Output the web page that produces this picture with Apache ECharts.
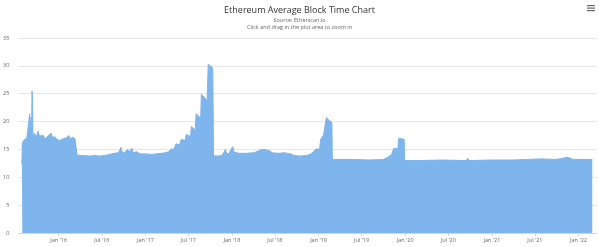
<!DOCTYPE html>
<html>
<head>
<meta charset="utf-8">
<script src="https://cdn.jsdelivr.net/npm/echarts@6/dist/echarts.min.js"></script>
<style>
  html, body { margin: 0; padding: 0; background: #fff; }
  #chart { width: 599px; height: 247px; }
</style>
</head>
<body>
<div id="chart"></div>
<script>
// average block time (seconds)
const blockDates = [
  '2015-07-30', '2015-08-01', '2015-08-10', '2015-08-20', '2015-08-28', '2015-09-01', '2015-09-03',
  '2015-09-07', '2015-09-09', '2015-09-11', '2015-09-13', '2015-09-15', '2015-09-22', '2015-09-29',
  '2015-10-06', '2015-10-12', '2015-10-20', '2015-10-28', '2015-11-05', '2015-11-14', '2015-11-22',
  '2015-12-01', '2015-12-06', '2015-12-15', '2015-12-25', '2016-01-05', '2016-01-15', '2016-01-25',
  '2016-02-05', '2016-02-12', '2016-02-20', '2016-03-01', '2016-03-10', '2016-03-17', '2016-03-19',
  '2016-04-01', '2016-04-20', '2016-05-10', '2016-06-01', '2016-06-20', '2016-07-10', '2016-07-25',
  '2016-08-01', '2016-08-20', '2016-09-10', '2016-09-20', '2016-09-24', '2016-10-05', '2016-10-18',
  '2016-10-25', '2016-11-05', '2016-11-10', '2016-11-25', '2016-12-10', '2017-01-01', '2017-01-25',
  '2017-02-15', '2017-03-10', '2017-03-25', '2017-04-10', '2017-04-20', '2017-05-01', '2017-05-10',
  '2017-05-25', '2017-06-01', '2017-06-18', '2017-06-22', '2017-07-10', '2017-07-14', '2017-07-30',
  '2017-08-03', '2017-08-22', '2017-08-25', '2017-09-18', '2017-09-23', '2017-10-12', '2017-10-15',
  '2017-11-01', '2017-11-20', '2017-12-04', '2017-12-10', '2017-12-20', '2018-01-04', '2018-01-10',
  '2018-02-01', '2018-03-01', '2018-04-04', '2018-04-20', '2018-05-01', '2018-05-20', '2018-06-07',
  '2018-06-20', '2018-07-15', '2018-08-10', '2018-09-07', '2018-09-20', '2018-10-15', '2018-11-10',
  '2018-11-25', '2018-12-10', '2018-12-22', '2019-01-05', '2019-01-10', '2019-01-22', '2019-02-03',
  '2019-02-15', '2019-02-26', '2019-02-28', '2019-04-01', '2019-06-01', '2019-08-01', '2019-10-01',
  '2019-10-20', '2019-11-05', '2019-11-14', '2019-12-02', '2019-12-05', '2019-12-28', '2019-12-30',
  '2020-03-01', '2020-06-01', '2020-09-15', '2020-09-21', '2020-09-28', '2021-01-01', '2021-04-01',
  '2021-06-01', '2021-08-01', '2021-09-20', '2021-10-15', '2021-11-15', '2021-11-20', '2021-12-10',
  '2022-02-01', '2022-02-28'
]
const blockTimes = [
  12.4, 16.2, 16.8, 17.0, 17.3, 21.4, 17.6,
  20.8, 17.5, 25.5, 24.2, 17.4, 17.9, 17.2,
  18.3, 17.4, 17.1, 17.5, 16.9, 17.3, 17.0,
  17.9, 17.1, 17.3, 16.8, 16.6, 16.8, 17.0,
  17.1, 17.5, 16.9, 17.2, 16.9, 16.7, 14.0,
  13.9, 13.9, 13.8, 13.9, 13.8, 13.9, 14.0,
  14.3, 14.3, 14.4, 15.4, 14.6, 14.4, 15.0,
  14.6, 15.2, 14.4, 14.6, 14.2, 14.2, 14.1,
  14.2, 14.3, 14.4, 14.6, 15.1, 15.0, 16.0,
  15.8, 16.8, 16.6, 17.7, 17.3, 19.1, 18.5,
  21.4, 20.6, 24.9, 23.8, 30.3, 29.6, 13.9,
  13.8, 13.9, 15.0, 14.2, 14.3, 15.5, 14.5,
  14.3, 14.3, 14.4, 14.7, 14.9, 15.0, 14.8,
  14.4, 14.3, 14.4, 14.2, 13.9, 13.8, 13.9,
  14.1, 14.5, 15.1, 15.0, 16.8, 17.6, 20.7,
  20.2, 19.9, 13.2, 13.2, 13.2, 13.1, 13.2,
  13.6, 14.1, 15.2, 15.1, 17.0, 16.8, 13.0,
  13.0, 13.1, 13.0, 13.4, 13.0, 13.1, 13.1,
  13.2, 13.3, 13.2, 13.3, 13.6, 13.3, 13.2,
  13.2, 13.2
]
const tickDates = [
  '2016-01-01', '2016-07-01', '2017-01-01', '2017-07-01', '2018-01-01', '2018-07-01', '2019-01-01',
  '2019-07-01', '2020-01-01', '2020-07-01', '2021-01-01', '2021-07-01', '2022-01-01'
]
const tickLabels = [
  "Jan '16", "Jul '16", "Jan '17", "Jul '17", "Jan '18", "Jul '18", "Jan '19",
  "Jul '19", "Jan '20", "Jul '20", "Jan '21", "Jul '21", "Jan '22"
]

const font = '"Open Sans", "DejaVu Sans", sans-serif'
const toTime = d => +new Date(d + 'T00:00:00Z')
const tickTimes = tickDates.map(toTime)
const labelOf = {}
tickTimes.forEach((t, i) => { labelOf[t] = tickLabels[i] })

const chart = echarts.init(document.getElementById('chart'), null, { renderer: 'canvas' })
chart.setOption({
  animation: false,
  backgroundColor: '#fff',
  title: {
    text: 'Ethereum Average Block Time Chart',
    subtext: 'Source: Etherscan.io\nClick and drag in the plot area to zoom in',
    left: 'center',
    top: 1,
    itemGap: 2,
    textStyle: { fontFamily: font, fontSize: 9, fontWeight: 'normal', color: '#333' },
    subtextStyle: { fontFamily: font, fontSize: 5.5, lineHeight: 7, color: '#666' }
  },
  graphic: [
    { type: 'rect', left: 587, top: 5, shape: { width: 8, height: 1.2 }, style: { fill: '#666' } },
    { type: 'rect', left: 587, top: 7.5, shape: { width: 8, height: 1.2 }, style: { fill: '#666' } },
    { type: 'rect', left: 587, top: 10, shape: { width: 8, height: 1.2 }, style: { fill: '#666' } }
  ],
  grid: { left: 17, right: 2, top: 38, bottom: 14, containLabel: false },
  xAxis: {
    type: 'value',
    min: toTime('2015-07-15'),
    max: toTime('2022-03-20'),
    axisLine: { lineStyle: { color: '#ccd6eb' } },
    axisTick: { show: true, customValues: tickTimes, length: 3, lineStyle: { color: '#ccd6eb' } },
    axisLabel: {
      customValues: tickTimes,
      formatter: v => labelOf[v] || '',
      fontFamily: font, fontSize: 5.5, color: '#666', margin: 4
    },
    splitLine: { show: false }
  },
  yAxis: {
    type: 'value',
    min: 0,
    max: 35,
    interval: 5,
    axisLine: { show: false },
    axisTick: { show: false },
    axisLabel: { fontFamily: font, fontSize: 5.5, color: '#666', margin: 9 },
    splitLine: { lineStyle: { color: '#e6e6e6', width: 1 } }
  },
  series: [{
    name: 'Average Block Time',
    type: 'line',
    data: blockDates.map((d, i) => [toTime(d), blockTimes[i]]),
    showSymbol: false,
    lineStyle: { color: '#7cb5ec', width: 1 },
    itemStyle: { color: '#7cb5ec' },
    areaStyle: { color: '#7db5ec', opacity: 1 }
  }]
})
</script>
</body>
</html>
